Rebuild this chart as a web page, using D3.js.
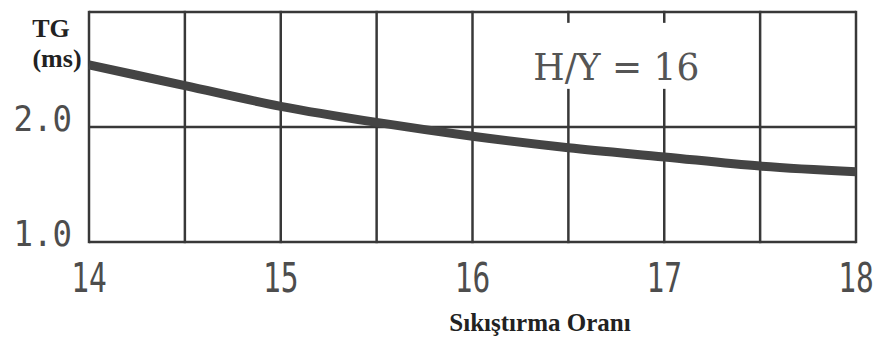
<!DOCTYPE html>
<html>
<head>
  <meta charset="utf-8">
  <script src="https://d3js.org/d3.v7.min.js"></script>
  <style>
    body { margin: 0; background: #fff; }
  </style>
</head>
<body>
  <div id="chart"></div>
  <script>
    // compression ratio vs TG (ms), H/Y = 16
    var ratio = [14, 14.5, 15, 15.5, 16, 16.5, 17, 17.5, 18];
    var tg = [2.54, 2.36, 2.18, 2.04, 1.92, 1.82, 1.74, 1.66, 1.61];
    var xLabels = [14, 15, 16, 17, 18];
    var yLabels = [1.0, 2.0];
    var xGrid = [14, 14.5, 15, 15.5, 16, 16.5, 17, 17.5, 18];
    var yGrid = [1.0, 2.0, 3.0];
    var note = "H/Y = 16";

    var margin = {top: 12, right: 25, bottom: 96, left: 89},
        width = 881 - margin.left - margin.right,
        height = 338 - margin.top - margin.bottom;

    var svg = d3.select("#chart").append("svg")
      .attr("width", 881)
      .attr("height", 338);

    var g = svg.append("g")
      .attr("transform", "translate(" + margin.left + "," + margin.top + ")");

    var x = d3.scaleLinear().domain([14, 18]).range([0, width]);
    var y = d3.scaleLinear().domain([1, 3]).range([height, 0]);

    var gridColor = "#383838";

    // grid
    g.selectAll(".vgrid")
      .data(xGrid)
      .enter().append("line")
      .attr("x1", function(d) { return x(d); })
      .attr("x2", function(d) { return x(d); })
      .attr("y1", y(1) + 1.2)
      .attr("y2", y(3) - 1.2)
      .attr("stroke", gridColor)
      .attr("stroke-width", 2.5);

    g.selectAll(".hgrid")
      .data(yGrid)
      .enter().append("line")
      .attr("x1", 0)
      .attr("x2", width)
      .attr("y1", function(d) { return y(d); })
      .attr("y2", function(d) { return y(d); })
      .attr("stroke", gridColor)
      .attr("stroke-width", 2.5);

    // annotation with a blank patch behind it
    var noteG = g.append("g");
    var noteText = noteG.append("text")
      .attr("x", x(16.75))
      .attr("y", y(2.41))
      .attr("text-anchor", "middle")
      .attr("font-family", "DejaVu Serif, serif")
      .attr("font-size", 38)
      .attr("textLength", 166)
      .attr("lengthAdjust", "spacingAndGlyphs")
      .attr("fill", "#555")
      .text(note);
    var bb = noteText.node().getBBox();
    noteG.insert("rect", "text")
      .attr("x", bb.x - 6)
      .attr("y", bb.y - 22)
      .attr("width", bb.width + 12)
      .attr("height", bb.height + 22)
      .attr("fill", "#fff");

    // curve
    var line = d3.line()
      .x(function(d, i) { return x(ratio[i]); })
      .y(function(d) { return y(d); })
      .curve(d3.curveMonotoneX);

    g.append("path")
      .datum(tg)
      .attr("d", line)
      .attr("fill", "none")
      .attr("stroke", "#444")
      .attr("stroke-width", 9);

    // x tick labels
    g.selectAll(".xlab")
      .data(xLabels)
      .enter().append("text")
      .attr("transform", function(d) { return "translate(" + x(d) + "," + (height + 50) + ") scale(0.72,1)"; })
      .attr("text-anchor", "middle")
      .attr("font-family", "DejaVu Sans Mono, monospace")
      .attr("font-size", 41)
      .attr("fill", "#4d4d4d")
      .text(function(d) { return d; });

    // y tick labels
    g.selectAll(".ylab")
      .data(yLabels)
      .enter().append("text")
      .attr("transform", function(d) { return "translate(-17," + (y(d) + 4) + ") scale(0.9,1)"; })
      .attr("text-anchor", "end")
      .attr("font-family", "DejaVu Sans Mono, monospace")
      .attr("font-size", 36)
      .attr("fill", "#4d4d4d")
      .text(function(d) { return d.toFixed(1); });

    // axis titles
    svg.append("text")
      .attr("x", 51)
      .attr("y", 37)
      .attr("text-anchor", "middle")
      .attr("font-family", "Liberation Serif, serif")
      .attr("font-weight", "bold")
      .attr("font-size", 26)
      .attr("fill", "#222")
      .text("TG");

    svg.append("text")
      .attr("x", 57)
      .attr("y", 67)
      .attr("text-anchor", "middle")
      .attr("font-family", "Liberation Serif, serif")
      .attr("font-weight", "bold")
      .attr("font-size", 26)
      .attr("fill", "#222")
      .text("(ms)");

    svg.append("text")
      .attr("x", 540)
      .attr("y", 331)
      .attr("text-anchor", "middle")
      .attr("font-family", "Liberation Serif, serif")
      .attr("font-weight", "bold")
      .attr("font-size", 25)
      .attr("fill", "#222")
      .text("Sıkıştırma Oranı");
  </script>
</body>
</html>
